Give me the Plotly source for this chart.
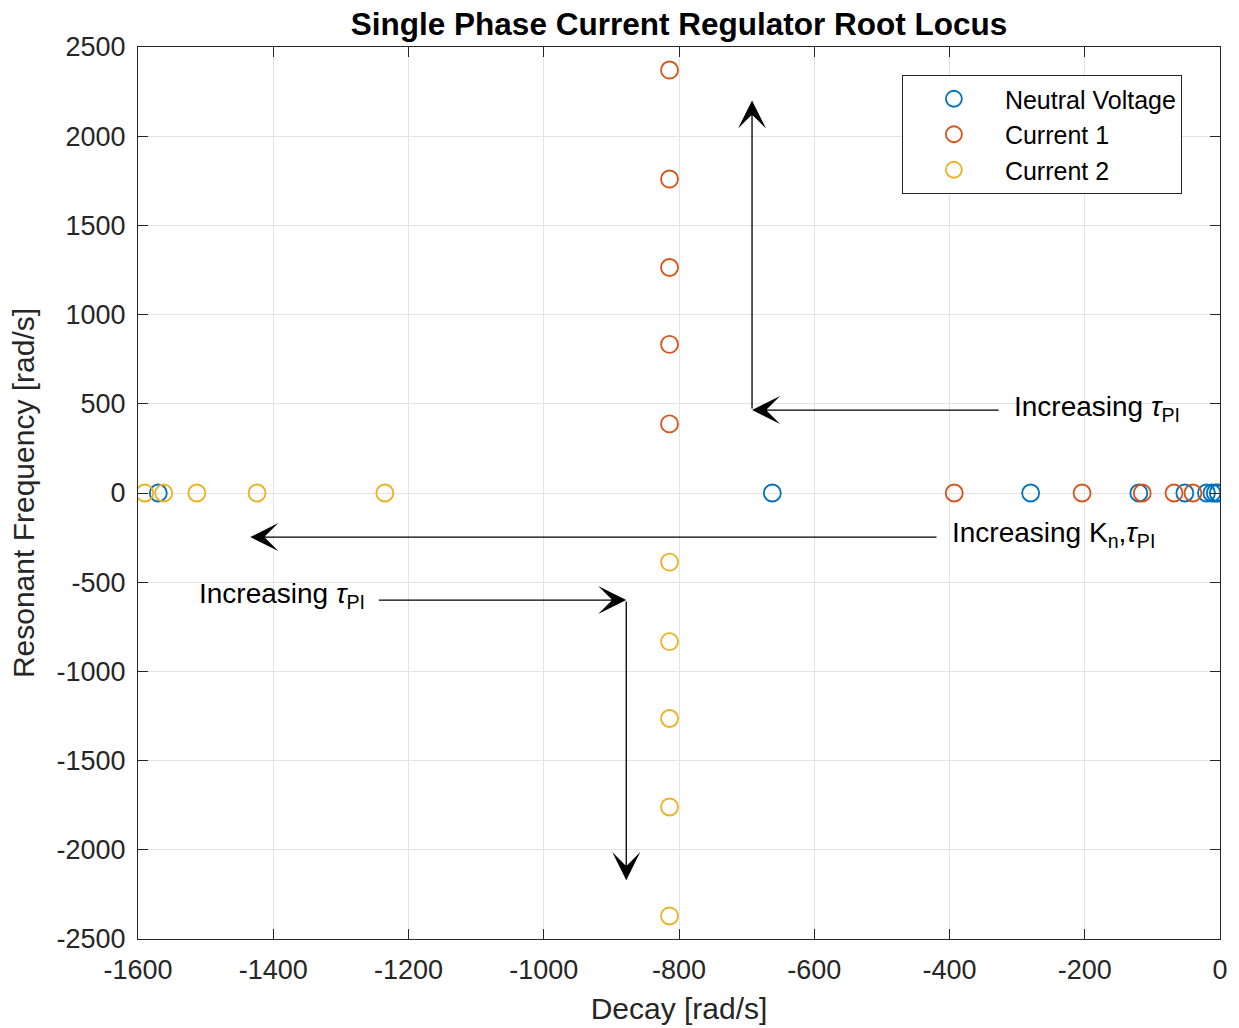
import plotly.graph_objects as go

# Closed-loop pole locations (real part = decay, imaginary part = resonant frequency)
neutral_decay = [-1570, -662, -280, -120, -52, -20, -12, -7, -2.5]
neutral_freq = [0, 0, 0, 0, 0, 0, 0, 0, 0]

current1_decay = [-814, -814, -814, -814, -814, -393, -204, -115, -68, -40]
current1_freq = [2371, 1760, 1264, 833, 387, 0, 0, 0, 0, 0]

current2_decay = [-814, -814, -814, -814, -814, -1590, -1562, -1513, -1424, -1235]
current2_freq = [-387, -833, -1264, -1760, -2371, 0, 0, 0, 0, 0]

x_ticks = [-1600, -1400, -1200, -1000, -800, -600, -400, -200, 0]
y_ticks = [-2500, -2000, -1500, -1000, -500, 0, 500, 1000, 1500, 2000, 2500]

FONT = "Liberation Sans, Arial, Helvetica, sans-serif"
COLORS = ["#0072BD", "#D95319", "#EDB120"]

fig = go.Figure()
for name, xs, ys, c in [
    ("Neutral Voltage", neutral_decay, neutral_freq, COLORS[0]),
    ("Current 1", current1_decay, current1_freq, COLORS[1]),
    ("Current 2", current2_decay, current2_freq, COLORS[2]),
]:
    fig.add_trace(go.Scatter(
        x=xs, y=ys, mode="markers", name=name,
        marker=dict(symbol="circle-open", size=17, color=c, line=dict(width=1.8, color=c)),
    ))

# Guide lines and arrows describing the direction of the root movement
arrow_common = dict(showarrow=True, text="", axref="x", ayref="y", xref="x", yref="y",
                    arrowhead=3, arrowsize=3.6, arrowwidth=1.3, arrowcolor="black")

# upper branch: increasing tau_PI
fig.add_annotation(x=-692, y=465, ax=-325, ay=465, **arrow_common)
fig.add_annotation(x=-692, y=2200, ax=-692, ay=465, **arrow_common)
# real axis: increasing Kn, tau_PI
fig.add_annotation(x=-1434, y=-247, ax=-417, ay=-247, **arrow_common)
# lower branch: increasing tau_PI
fig.add_annotation(x=-878, y=-600, ax=-1246, ay=-600, **arrow_common)
fig.add_annotation(x=-878, y=-2170, ax=-878, ay=-600, **arrow_common)

text_common = dict(showarrow=False, xref="x", yref="y", font=dict(family=FONT, size=28, color="black"),
                   xanchor="left", yanchor="middle")
fig.add_annotation(x=-307, y=474, text="Increasing <i>τ</i><sub>PI</sub>", **text_common)
fig.add_annotation(x=-399, y=-232, text="Increasing K<sub>n</sub>,<i>τ</i><sub>PI</sub>", **text_common)
fig.add_annotation(x=-1513, y=-573, text="Increasing <i>τ</i><sub>PI</sub>", **text_common)

axis_common = dict(
    showgrid=True, gridcolor="#e3e3e3", gridwidth=1,
    showline=True, linecolor="#262626", linewidth=1.2, mirror="allticks",
    ticks="inside", ticklen=10, tickcolor="#262626", tickwidth=1,
    zeroline=False, automargin=False,
    tickfont=dict(family=FONT, size=27, color="#262626"),
    title_font=dict(family=FONT, size=30, color="#262626"),
)

fig.update_xaxes(range=[-1600, 0], tickvals=x_ticks, ticktext=[str(v) for v in x_ticks],
                 title_text="Decay [rad/s]", title_standoff=14, ticklabelstandoff=6, **axis_common)
fig.update_yaxes(range=[-2500, 2500], tickvals=y_ticks, ticktext=[str(v) for v in y_ticks],
                 title_text="Resonant Frequency [rad/s]", title_standoff=12, ticklabelstandoff=6,
                 **axis_common)

fig.update_layout(
    width=1239, height=1028,
    margin=dict(l=138, r=19, t=47, b=89),
    paper_bgcolor="white", plot_bgcolor="white",
    title=dict(text="<b>Single Phase Current Regulator Root Locus</b>", xref="paper", x=0.5,
               xanchor="center", y=0.977, yanchor="middle",
               font=dict(family=FONT, size=31.5, color="black")),
    legend=dict(x=0.706, y=0.9686, xanchor="left", yanchor="top",
                bgcolor="white", bordercolor="#262626", borderwidth=1,
                font=dict(family=FONT, size=25, color="black"),
                itemwidth=92, tracegroupgap=0),
    showlegend=True,
)

fig.write_html("out.html")
